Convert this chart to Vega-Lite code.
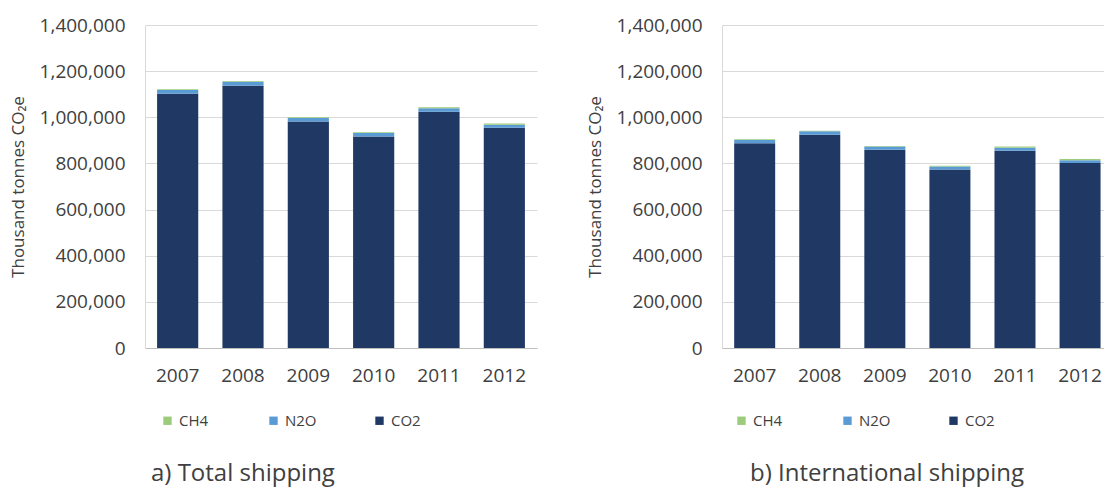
{
  "$schema": "https://vega.github.io/schema/vega-lite/v6.json",
  "padding": {"left": 9, "top": 16, "right": 0, "bottom": 8},
  "background": "white",
  "config": {
    "font": "Open Sans",
    "view": {"stroke": null},
    "concat": {"spacing": 49},
    "axis": {"labelColor": "#404040", "titleColor": "#404040", "labelFont": "Open Sans", "titleFont": "Open Sans"}
  },
  "datasets": {
    "total": [
      {"year": "2007", "gas": "CO2", "value": 1102000}, {"year": "2007", "gas": "N2O", "value": 16000}, {"year": "2007", "gas": "CH4", "value": 3000},
      {"year": "2008", "gas": "CO2", "value": 1137000}, {"year": "2008", "gas": "N2O", "value": 17000}, {"year": "2008", "gas": "CH4", "value": 3000},
      {"year": "2009", "gas": "CO2", "value": 982000}, {"year": "2009", "gas": "N2O", "value": 15000}, {"year": "2009", "gas": "CH4", "value": 3000},
      {"year": "2010", "gas": "CO2", "value": 917000}, {"year": "2010", "gas": "N2O", "value": 15000}, {"year": "2010", "gas": "CH4", "value": 3000},
      {"year": "2011", "gas": "CO2", "value": 1024000}, {"year": "2011", "gas": "N2O", "value": 15000}, {"year": "2011", "gas": "CH4", "value": 5000},
      {"year": "2012", "gas": "CO2", "value": 955000}, {"year": "2012", "gas": "N2O", "value": 13000}, {"year": "2012", "gas": "CH4", "value": 5000}
    ],
    "intl": [
      {"year": "2007", "gas": "CO2", "value": 887000}, {"year": "2007", "gas": "N2O", "value": 15000}, {"year": "2007", "gas": "CH4", "value": 3000},
      {"year": "2008", "gas": "CO2", "value": 924000}, {"year": "2008", "gas": "N2O", "value": 15000}, {"year": "2008", "gas": "CH4", "value": 3000},
      {"year": "2009", "gas": "CO2", "value": 859000}, {"year": "2009", "gas": "N2O", "value": 14000}, {"year": "2009", "gas": "CH4", "value": 3000},
      {"year": "2010", "gas": "CO2", "value": 774000}, {"year": "2010", "gas": "N2O", "value": 13000}, {"year": "2010", "gas": "CH4", "value": 3000},
      {"year": "2011", "gas": "CO2", "value": 855000}, {"year": "2011", "gas": "N2O", "value": 13000}, {"year": "2011", "gas": "CH4", "value": 5000},
      {"year": "2012", "gas": "CO2", "value": 802000}, {"year": "2012", "gas": "N2O", "value": 12000}, {"year": "2012", "gas": "CH4", "value": 5000}
    ]
  },
  "hconcat": [
    {
      "data": {"name": "total"},
      "width": 392,
      "height": 323,
      "title": {"text": "a) Total shipping", "orient": "bottom", "anchor": "start", "frame": "group", "dx": 6, "offset": 33, "fontSize": 24, "fontWeight": "normal", "color": "#404040", "font": "Open Sans"},
      "transform": [{"calculate": "indexof(['CO2','N2O','CH4'], datum.gas)", "as": "stackOrder"}],
      "mark": {"type": "bar"},
      "encoding": {
        "x": {"field": "year", "type": "ordinal", "scale": {"paddingInner": 0.37, "paddingOuter": 0.185},
              "axis": {"title": null, "labelAngle": 0, "labelFontSize": 19, "ticks": false, "domainColor": "#bfbfbf", "labelPadding": 18}},
        "y": {"field": "value", "type": "quantitative", "scale": {"domain": [0, 1400000], "nice": false},
              "axis": {"values": [0, 200000, 400000, 600000, 800000, 1000000, 1200000, 1400000], "format": ",d", "title": "Thousand tonnes CO₂e",
                       "titleFontSize": 17, "titleFontWeight": "normal", "labelFontSize": 19, "labelPadding": 20, "ticks": false,
                       "domainColor": "#d9d9d9", "gridColor": "#d9d9d9", "minExtent": 108, "maxExtent": 108, "titlePadding": 10}},
        "color": {"field": "gas", "type": "nominal",
                  "scale": {"domain": ["CH4", "N2O", "CO2"], "range": ["#9bcb7b", "#5b9bd5", "#1f3864"]},
                  "legend": {"orient": "none", "legendX": 15, "legendY": 388, "direction": "horizontal", "title": null,
                             "symbolType": "square", "symbolSize": 70, "labelFontSize": 15, "labelColor": "#404040",
                             "gridAlign": "all", "columnPadding": 55, "labelOffset": 4}},
        "order": {"field": "stackOrder", "type": "quantitative"}
      }
    },
    {
      "data": {"name": "intl"},
      "width": 382,
      "height": 323,
      "title": {"text": "b) International shipping", "orient": "bottom", "anchor": "start", "frame": "group", "dx": 28, "offset": 33, "fontSize": 24, "fontWeight": "normal", "color": "#404040", "font": "Open Sans"},
      "transform": [{"calculate": "indexof(['CO2','N2O','CH4'], datum.gas)", "as": "stackOrder"}],
      "mark": {"type": "bar"},
      "encoding": {
        "x": {"field": "year", "type": "ordinal", "scale": {"paddingInner": 0.37, "paddingOuter": 0.12, "align": 0.78},
              "axis": {"title": null, "labelAngle": 0, "labelFontSize": 19, "ticks": false, "domainColor": "#bfbfbf", "labelPadding": 18}},
        "y": {"field": "value", "type": "quantitative", "scale": {"domain": [0, 1400000], "nice": false},
              "axis": {"values": [0, 200000, 400000, 600000, 800000, 1000000, 1200000, 1400000], "format": ",d", "title": "Thousand tonnes CO₂e",
                       "titleFontSize": 17, "titleFontWeight": "normal", "labelFontSize": 19, "labelPadding": 20, "ticks": false,
                       "domainColor": "#d9d9d9", "gridColor": "#d9d9d9", "minExtent": 108, "maxExtent": 108, "titlePadding": 10}},
        "color": {"field": "gas", "type": "nominal",
                  "scale": {"domain": ["CH4", "N2O", "CO2"], "range": ["#9bcb7b", "#5b9bd5", "#1f3864"]},
                  "legend": {"orient": "none", "legendX": 12, "legendY": 388, "direction": "horizontal", "title": null,
                             "symbolType": "square", "symbolSize": 70, "labelFontSize": 15, "labelColor": "#404040",
                             "gridAlign": "all", "columnPadding": 55, "labelOffset": 4}},
        "order": {"field": "stackOrder", "type": "quantitative"}
      }
    }
  ],
  "resolve": {"scale": {"color": "independent"}, "legend": {"color": "independent"}}
}
